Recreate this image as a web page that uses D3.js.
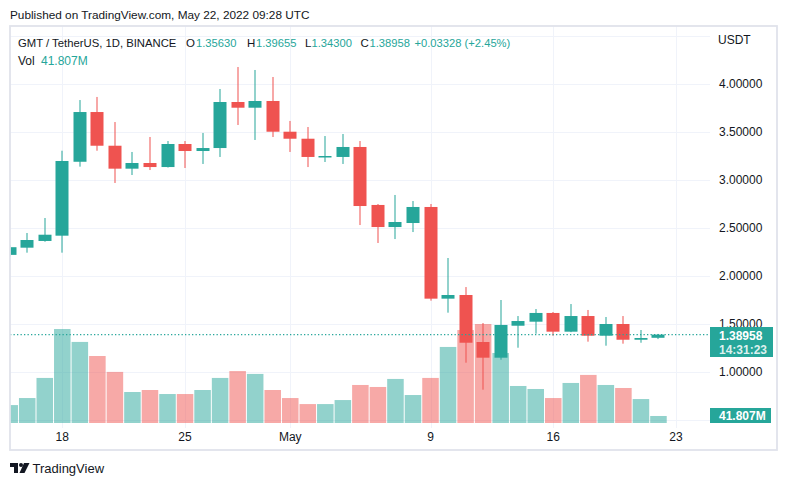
<!DOCTYPE html>
<html>
<head>
<meta charset="utf-8">
<script src="https://cdn.jsdelivr.net/npm/d3@7"></script>
<style>
html,body{margin:0;padding:0;background:#fff;}
svg{display:block;}
text{font-family:"Liberation Sans",Arial,sans-serif;}
</style>
</head>
<body>
<svg id="chart" width="788" height="486"></svg>
<script>
const dates = ["2022-04-15","2022-04-16","2022-04-17","2022-04-18","2022-04-19","2022-04-20","2022-04-21","2022-04-22","2022-04-23","2022-04-24","2022-04-25","2022-04-26","2022-04-27","2022-04-28","2022-04-29","2022-04-30","2022-05-01","2022-05-02","2022-05-03","2022-05-04","2022-05-05","2022-05-06","2022-05-07","2022-05-08","2022-05-09","2022-05-10","2022-05-11","2022-05-12","2022-05-13","2022-05-14","2022-05-15","2022-05-16","2022-05-17","2022-05-18","2022-05-19","2022-05-20","2022-05-21","2022-05-22"];
const open  = [2.22,2.295,2.365,2.42,3.19,3.708,3.357,3.118,3.177,3.135,3.375,3.302,3.333,3.8125,3.753,3.823,3.503,3.43,3.24,3.24,3.344,2.74,2.51,2.552,2.719,1.764,1.802,1.3125,1.149,1.482,1.524,1.615,1.42,1.583,1.378,1.5,1.336,1.3563];
const high  = [2.32,2.448,2.604,3.305,3.833,3.865,3.604,3.292,3.448,3.406,3.406,3.49,3.948,4.177,4.146,4.073,3.615,3.552,3.458,3.479,3.406,2.75,2.844,2.781,2.75,2.1875,1.885,1.51,1.75,1.583,1.656,1.625,1.708,1.646,1.573,1.583,1.4375,1.39655];
const low   = [2.20,2.243,2.357,2.243,3.139,3.305,2.969,3.052,3.104,3.13,3.125,3.167,3.24,3.573,3.417,3.448,3.292,3.135,3.1875,3.167,2.531,2.344,2.385,2.458,1.743,1.618,1.097,0.816,1.128,1.253,1.399,1.378,1.415,1.316,1.274,1.295,1.305,1.343];
const close = [2.30,2.375,2.43,3.198,3.708,3.357,3.118,3.177,3.135,3.375,3.302,3.333,3.8125,3.753,3.823,3.503,3.43,3.24,3.25,3.344,2.729,2.51,2.5625,2.719,1.764,1.802,1.305,1.149,1.49,1.531,1.615,1.42,1.583,1.378,1.5,1.336,1.354,1.38958];
const volume = [107,149,269,561,484,400,305,185,197,173,173,197,269,310,293,197,149,113,113,137,227,215,263,167,269,454,555,591,418,221,203,149,239,287,227,209,143,41.807];
const priceTicks = [1.0,1.5,2.0,2.5,3.0,3.5,4.0];
const priceGrid = [0.5,1.0,1.5,2.0,2.5,3.0,3.5,4.0,4.5];
const timeTicks = [["2022-04-18","18"],["2022-04-25","25"],["2022-05-01","May"],["2022-05-09","9"],["2022-05-16","16"],["2022-05-23","23"]];
const lastPrice = 1.38958, lastVol = "41.807M", countdown = "14:31:23";

const UP = "#26a69a", DOWN = "#ef5350", TXT = "#131722", GRID = "#f0f3fa", FRAME = "#e0e3eb";
const L = 10, R = 710, T = 26, B = 423;

const svg = d3.select("#chart");
const parse = d3.utcParse("%Y-%m-%d");
const x = d3.scaleUtc().domain([parse("2022-04-18"), parse("2022-05-23")]).range([62.3, 676]);
const y = d3.scaleLinear().domain([0.5, 4.5]).range([420, 36]);
const v = d3.scaleLinear().domain([0, 600]).range([B, B - 100.5]);
const step = x(parse("2022-04-19")) - x(parse("2022-04-18"));

const data = dates.map((d,i)=>({d:parse(d),o:open[i],h:high[i],l:low[i],c:close[i],vol:volume[i]}));

svg.append("defs").append("clipPath").attr("id","clip")
  .append("rect").attr("x",L).attr("y",T).attr("width",R-L).attr("height",B-T);

// grid
svg.append("g").selectAll("line").data(priceGrid).join("line")
  .attr("x1",L).attr("x2",R).attr("y1",d=>Math.round(y(d))+0.5).attr("y2",d=>Math.round(y(d))+0.5)
  .attr("stroke",GRID).attr("stroke-width",1);
svg.append("g").selectAll("line").data(timeTicks).join("line")
  .attr("x1",d=>Math.round(x(parse(d[0])))+0.5).attr("x2",d=>Math.round(x(parse(d[0])))+0.5)
  .attr("y1",T).attr("y2",428)
  .attr("stroke",GRID).attr("stroke-width",1);

const plot = svg.append("g").attr("clip-path","url(#clip)");

// volume
plot.append("g").selectAll("rect").data(data).join("rect")
  .attr("x",d=>x(d.d)-step/2+0.5).attr("width",step-1)
  .attr("y",d=>v(d.vol)).attr("height",d=>B-v(d.vol))
  .attr("fill",d=>d.c>=d.o?UP:DOWN).attr("fill-opacity",0.5);

// candles
const cg = plot.append("g").selectAll("g").data(data).join("g");
cg.append("rect")
  .attr("x",d=>Math.round(x(d.d))-0.5).attr("width",1)
  .attr("y",d=>y(d.h)).attr("height",d=>y(d.l)-y(d.h))
  .attr("fill",d=>d.c>=d.o?UP:DOWN);
cg.append("rect")
  .attr("x",d=>Math.round(x(d.d))-6.5).attr("width",13)
  .attr("y",d=>y(Math.max(d.o,d.c)))
  .attr("height",d=>Math.max(1.5,Math.abs(y(d.o)-y(d.c))))
  .attr("fill",d=>d.c>=d.o?UP:DOWN);

// last price dotted line
svg.append("line").attr("x1",L).attr("x2",R).attr("y1",y(lastPrice)).attr("y2",y(lastPrice))
  .attr("stroke",UP).attr("stroke-width",1.3).attr("stroke-dasharray","1.3,2.2");

// frame
svg.append("rect").attr("x",L).attr("y",T).attr("width",777-L).attr("height",450-T)
  .attr("fill","none").attr("stroke",FRAME).attr("stroke-width",1.8);

// price axis labels
svg.append("g").selectAll("text").data(priceTicks).join("text")
  .attr("x",719).attr("y",d=>y(d)+4.3).attr("font-size",12).attr("fill",TXT)
  .text(d=>d3.format(".5f")(d));
svg.append("text").attr("x",718).attr("y",44).attr("font-size",12).attr("fill",TXT).text("USDT");

// last price label
svg.append("rect").attr("x",R).attr("y",327).attr("width",63).attr("height",30).attr("fill",UP);
svg.append("text").attr("x",719).attr("y",339.5).attr("font-size",12).attr("font-weight","bold").attr("fill","#fff").text(d3.format(".5f")(lastPrice));
svg.append("text").attr("x",719).attr("y",353.5).attr("font-size",12).attr("font-weight","bold").attr("fill","#fff").attr("fill-opacity",0.85).text(countdown);
// volume label
svg.append("rect").attr("x",R).attr("y",408).attr("width",61).attr("height",15).attr("fill",UP);
svg.append("text").attr("x",719).attr("y",420).attr("font-size",12).attr("font-weight","bold").attr("fill","#fff").text(lastVol);

// time axis labels
svg.append("g").selectAll("text").data(timeTicks).join("text")
  .attr("x",d=>x(parse(d[0]))).attr("y",441).attr("text-anchor","middle")
  .attr("font-size",12).attr("fill",TXT).text(d=>d[1]);

// header
svg.append("text").attr("x",10).attr("y",19).attr("font-size",11.8).attr("fill",TXT)
  .text("Published on TradingView.com, May 22, 2022 09:28 UTC");

// legend
const lg = [
  {x:18,t:"GMT / TetherUS, 1D, BINANCE",c:TXT,s:11.3},
  {x:186,t:"O",c:TXT},{x:196,t:"1.35630",c:UP,s:11.2},
  {x:247,t:"H",c:TXT},{x:256,t:"1.39655",c:UP,s:11.2},
  {x:305,t:"L",c:TXT},{x:311.5,t:"1.34300",c:UP,s:11.2},
  {x:360.5,t:"C",c:TXT},{x:369.5,t:"1.38958",c:UP,s:11.2},
  {x:414.5,t:"+0.03328 (+2.45%)",c:UP,s:11.2},
  {x:18,t:"Vol",c:TXT,y:65,s:12},{x:41,t:"41.807M",c:UP,y:65,s:12}
];
svg.append("g").selectAll("text").data(lg).join("text")
  .attr("x",d=>d.x).attr("y",d=>d.y||47).attr("font-size",d=>d.s||11.5).attr("fill",d=>d.c).text(d=>d.t);

// footer logo
const logo = svg.append("g").attr("fill",TXT);
logo.append("path").attr("d","M10,463 H18 V473 H14 V467 H10 Z");
logo.append("circle").attr("cx",21).attr("cy",465).attr("r",2);
logo.append("path").attr("d","M24,463 H29.5 L24.5,473 H19.5 Z");
svg.append("text").attr("x",32.5).attr("y",473).attr("font-size",13).attr("fill",TXT).text("TradingView");
</script>
</body>
</html>
